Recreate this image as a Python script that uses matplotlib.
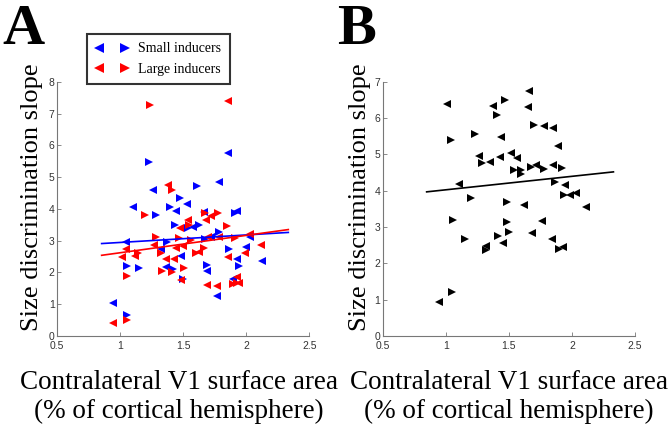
import numpy as np
import matplotlib
matplotlib.use("Agg")
import matplotlib.pyplot as plt
from matplotlib.lines import Line2D
from matplotlib.legend_handler import HandlerTuple

# ---------------- data ----------------
small_x = [0.949,1.054,1.049,1.054,1.107,1.154,1.233,1.265,1.29,1.326,1.363,1.37,1.40,1.418,1.437,1.445,1.476,1.484,1.497,1.53,1.54,1.582,1.608,1.63,1.666,1.674,1.69,1.69,1.72,1.772,1.788,1.788,1.859,1.867,1.893,1.912,1.93,1.93,1.946,2.0,2.03,2.123]
small_y = [1.05,0.66,2.97,2.21,4.07,2.15,5.48,4.59,3.80,2.73,2.18,2.97,4.07,2.10,3.49,3.93,4.35,2.52,1.78,4.14,3.39,3.44,4.73,3.49,3.91,3.04,2.25,2.05,3.12,1.26,4.85,3.28,5.76,2.73,1.79,3.86,3.94,2.41,2.20,2.81,3.12,2.36]
small_dir = list("LRLRLRRLRLLRRRRLRLRLRLRRLRRLLLLRLRLRLLRLLL")

large_x = [0.949,1.054,1.015,1.049,1.059,1.12,1.146,1.199,1.239,1.27,1.29,1.323,1.33,1.363,1.384,1.41,1.41,1.43,1.445,1.468,1.476,1.484,1.50,1.51,1.537,1.55,1.563,1.60,1.627,1.666,1.674,1.682,1.687,1.70,1.724,1.772,1.78,1.788,1.846,1.859,1.859,1.893,1.912,1.925,1.93,1.946,1.99,2.03,2.117]
large_y = [0.40,0.50,2.49,2.73,1.89,2.52,2.60,3.80,7.28,2.86,3.12,2.62,2.05,2.41,4.75,4.61,2.02,2.41,2.76,3.07,3.39,1.76,2.83,2.13,3.65,3.5,3.02,2.6,2.65,2.76,3.86,3.65,1.62,3.12,3.77,1.58,3.86,3.12,3.46,7.39,2.49,1.64,3.07,1.87,1.66,1.68,2.6,3.2,2.88]
large_dir = list("LRLLRLRRRLRRRLLRRLLRLLLRLRRRLRRLLLLLRLRLLRRLRLLLL")

b_x = [0.947,1.007,1.042,1.052,1.055,1.108,1.15,1.197,1.232,1.261,1.285,1.319,1.322,1.348,1.375,1.403,1.414,1.427,1.44,1.454,1.47,1.485,1.485,1.50,1.517,1.538,1.562,1.596,1.596,1.618,1.649,1.66,1.673,1.684,1.697,1.718,1.76,1.781,1.781,1.842,1.853,1.853,1.866,1.892,1.895,1.921,1.93,1.94,1.945,1.988,2.03,2.11]
b_y = [0.93,6.39,5.39,1.22,3.19,4.20,2.66,3.81,5.56,4.95,4.77,2.48,2.38,4.78,6.33,6.08,2.76,4.94,5.49,2.56,6.50,3.70,3.13,2.87,5.04,4.57,4.89,4.57,4.45,3.61,6.31,6.75,4.66,2.84,5.81,4.72,3.17,5.79,4.59,2.66,5.72,4.72,4.25,5.23,2.41,4.63,2.44,3.88,4.16,3.87,3.93,3.56]
b_dir = list("LLRRRLRRRLRLRLLRRLLLRRRRLRLRRLLLRLRLLLRLLLRLRRLRLLLL")

# regression lines (endpoints)
fit_a_x = [0.856, 2.334]
fit_small_y = [2.91, 3.26]
fit_large_y = [2.54, 3.35]
fit_b_x = [0.849, 2.328]
fit_b_y = [3.97, 4.52]

xticks = [0.5, 1, 1.5, 2, 2.5]
xticklabels = ["0.5", "1", "1.5", "2", "2.5"]
yticks_a = list(range(0, 9))
yticks_b = list(range(0, 8))

SERIF = ["Liberation Serif", "DejaVu Serif"]
SANS = ["Liberation Sans", "DejaVu Sans"]
MS = 6.0

fig = plt.figure(figsize=(6.7, 4.33), dpi=100)
axA = fig.add_axes([0.0846, 0.224, 0.377, 0.587])
axB = fig.add_axes([0.571, 0.224, 0.377, 0.587])


def scatter_dir(ax, xs, ys, dirs, color):
    xs = np.asarray(xs); ys = np.asarray(ys); d = np.asarray(dirs)
    for key, m in (("L", "<"), ("R", ">")):
        sel = d == key
        ax.plot(xs[sel], ys[sel], linestyle="none", marker=m, ms=MS,
                color=color, markeredgewidth=0)


def style(ax, ylim, yticks):
    ax.set_xlim(0.5, 2.5)
    ax.set_ylim(*ylim)
    ax.set_xticks(xticks)
    ax.set_xticklabels(xticklabels)
    ax.set_yticks(yticks)
    for s in ("top", "right"):
        ax.spines[s].set_visible(False)
    for s in ("left", "bottom"):
        ax.spines[s].set_color("#777777")
        ax.spines[s].set_linewidth(0.8)
    ax.tick_params(direction="in", length=3, width=0.6, color="#777777",
                   labelsize=7.5, labelcolor="#333333")
    ax.tick_params(axis="x", pad=3.5)
    ax.tick_params(axis="y", pad=1.5)
    for lab in ax.get_xticklabels() + ax.get_yticklabels():
        lab.set_family(SANS)
    ax.set_xlabel("Contralateral V1 surface area\n(% of cortical hemisphere)",
                  family=SERIF, fontsize=19.5, linespacing=1.2)
    ax.set_ylabel("Size discrimination slope", family=SERIF, fontsize=19)


# Panel A
scatter_dir(axA, small_x, small_y, small_dir, (0, 0, 1))
scatter_dir(axA, large_x, large_y, large_dir, (1, 0, 0))
axA.plot(fit_a_x, fit_small_y, color=(0, 0, 1), lw=1.2)
axA.plot(fit_a_x, fit_large_y, color=(1, 0, 0), lw=1.2)
style(axA, (0, 8), yticks_a)
axA.yaxis.set_label_coords(-0.055, 0.545)
axA.xaxis.set_label_coords(0.485, -0.135)

hs = (Line2D([], [], ls="none", marker="<", ms=MS + 1, color="b", mew=0),
      Line2D([], [], ls="none", marker=">", ms=MS + 1, color="b", mew=0))
hl = (Line2D([], [], ls="none", marker="<", ms=MS + 1, color="r", mew=0),
      Line2D([], [], ls="none", marker=">", ms=MS + 1, color="r", mew=0))
leg = axA.legend([hs, hl], ["Small inducers", "Large inducers"],
                 handler_map={tuple: HandlerTuple(ndivide=None, pad=1.4)},
                 loc="lower left", bbox_to_anchor=(0.12, 0.99),
                 prop={"family": SERIF, "size": 10}, frameon=True,
                 fancybox=False, handlelength=2.4, handletextpad=0.7,
                 borderpad=0.6, labelspacing=0.55, borderaxespad=0)
leg.get_frame().set_edgecolor("black")
leg.get_frame().set_linewidth(1.5)

# Panel B
scatter_dir(axB, b_x, b_y, b_dir, "black")
axB.plot(fit_b_x, fit_b_y, color="black", lw=1.2)
style(axB, (0, 7), yticks_b)
axB.yaxis.set_label_coords(-0.045, 0.545)
axB.xaxis.set_label_coords(0.5, -0.135)

# Panel letters
fig.text(0.004, 0.99, "A", family=SERIF, fontweight="bold", fontsize=42,
         va="top", ha="left")
fig.text(0.503, 0.99, "B", family=SERIF, fontweight="bold", fontsize=42,
         va="top", ha="left")

fig.savefig("out.png", dpi=100)
